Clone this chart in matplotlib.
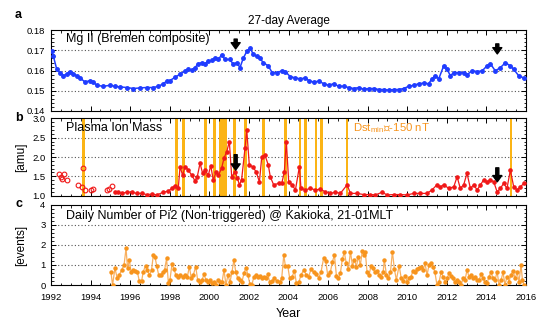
import matplotlib
matplotlib.use("Agg")
import matplotlib.pyplot as plt
from matplotlib.ticker import MultipleLocator

plt.rcParams['font.family'] = ['Liberation Sans', 'DejaVu Sans']
plt.rcParams['mathtext.fontset'] = 'custom'
plt.rcParams['mathtext.rm'] = 'Liberation Sans'
plt.rcParams['mathtext.default'] = 'regular'

# ---------------- data ----------------
mg_years = [1992.03, 1992.12, 1992.29, 1992.45, 1992.62, 1992.79, 1992.96, 1993.13, 1993.30, 1993.47,
            1993.72, 1993.97, 1994.14, 1994.31, 1994.64, 1994.98, 1995.23, 1995.49, 1995.82, 1996.16,
            1996.50, 1996.83, 1997.17, 1997.42, 1997.68, 1997.84, 1998.01, 1998.27, 1998.52, 1998.77,
            1998.94, 1999.11, 1999.28, 1999.44, 1999.61, 1999.78, 1999.95, 2000.12, 2000.29, 2000.46,
            2000.62, 2000.79, 2001.04, 2001.21, 2001.38, 2001.55, 2001.72, 2001.89, 2002.06, 2002.22,
            2002.39, 2002.56, 2002.73, 2002.98, 2003.17, 2003.42, 2003.67, 2003.84, 2004.09, 2004.35,
            2004.60, 2004.85, 2005.02, 2005.27, 2005.53, 2005.78, 2006.03, 2006.28, 2006.54, 2006.79,
            2007.04, 2007.29, 2007.55, 2007.80, 2008.05, 2008.30, 2008.56, 2008.81, 2009.06, 2009.32,
            2009.57, 2009.82, 2010.07, 2010.33, 2010.58, 2010.83, 2011.08, 2011.25, 2011.42, 2011.59,
            2011.84, 2012.01, 2012.18, 2012.35, 2012.60, 2012.85, 2013.02, 2013.27, 2013.53, 2013.78,
            2014.03, 2014.20, 2014.45, 2014.71, 2014.96, 2015.21, 2015.38, 2015.63, 2015.88]
mg_values = [0.1695, 0.1671, 0.1606, 0.1590, 0.1574, 0.1582, 0.1595, 0.1585, 0.1574, 0.1563,
             0.1542, 0.1550, 0.1542, 0.1526, 0.1521, 0.1526, 0.1521, 0.1518, 0.1515, 0.1510,
             0.1513, 0.1515, 0.1515, 0.1521, 0.1534, 0.1547, 0.1550, 0.1566, 0.1582, 0.1598,
             0.1606, 0.1602, 0.1615, 0.1634, 0.1639, 0.1634, 0.1647, 0.1650, 0.1663, 0.1655,
             0.1679, 0.1655, 0.1655, 0.1631, 0.1639, 0.1615, 0.1663, 0.1695, 0.1711, 0.1682,
             0.1671, 0.1660, 0.1639, 0.1623, 0.1590, 0.1590, 0.1598, 0.1595, 0.1569, 0.1563,
             0.1558, 0.1563, 0.1550, 0.1542, 0.1547, 0.1534, 0.1526, 0.1534, 0.1521, 0.1521,
             0.1515, 0.1510, 0.1515, 0.1506, 0.1510, 0.1510, 0.1505, 0.1505, 0.1502, 0.1505,
             0.1505, 0.1510, 0.1521, 0.1526, 0.1534, 0.1537, 0.1534, 0.1558, 0.1574, 0.1558,
             0.1623, 0.1606, 0.1574, 0.1590, 0.1590, 0.1590, 0.1579, 0.1598, 0.1595, 0.1598,
             0.1623, 0.1634, 0.1598, 0.1615, 0.1639, 0.1623, 0.1606, 0.1574, 0.1563]

# plasma ion mass, early period (open circles)
mass_early_years = [1992.40, 1992.50, 1992.58, 1992.66, 1992.80, 1993.35, 1993.57, 1993.64, 1993.74,
                    1994.00, 1994.10, 1994.82, 1994.95, 1995.07]
mass_early_values = [1.55, 1.48, 1.43, 1.55, 1.40, 1.28, 1.23, 1.72, 1.15,
                     1.16, 1.17, 1.14, 1.17, 1.24]

mass_years = [1995.23, 1995.40, 1995.57, 1995.82, 1996.08, 1996.33, 1996.58, 1996.83, 1997.09, 1997.34,
              1997.68, 1997.93, 1998.10, 1998.27, 1998.43, 1998.52, 1998.65, 1998.77, 1998.94, 1999.11,
              1999.28, 1999.39, 1999.53, 1999.66, 1999.78, 1999.95, 2000.07, 2000.20, 2000.34, 2000.46,
              2000.62, 2000.74, 2000.88, 2001.01, 2001.13, 2001.30, 2001.42, 2001.52, 2001.63, 2001.80,
              2001.89, 2002.02, 2002.19, 2002.36, 2002.53, 2002.65, 2002.81, 2002.98, 2003.08, 2003.25,
              2003.50, 2003.67, 2003.79, 2003.89, 2004.01, 2004.18, 2004.35, 2004.55, 2004.63, 2004.85,
              2005.10, 2005.36, 2005.61, 2005.86, 2006.12, 2006.37, 2006.62, 2006.96, 2007.13, 2007.46,
              2007.80, 2008.14, 2008.39, 2008.73, 2008.98, 2009.32, 2009.65, 2009.99, 2010.33, 2010.66,
              2011.00, 2011.25, 2011.50, 2011.67, 2011.84, 2012.10, 2012.35, 2012.52, 2012.68, 2012.85,
              2013.02, 2013.19, 2013.36, 2013.53, 2013.70, 2013.86, 2014.03, 2014.20, 2014.37, 2014.54,
              2014.71, 2014.87, 2015.04, 2015.21, 2015.38, 2015.55, 2015.72, 2015.89]
mass_values = [1.09, 1.09, 1.06, 1.09, 1.09, 1.06, 1.06, 1.03, 1.04, 1.02,
               1.09, 1.12, 1.19, 1.26, 1.19, 1.75, 1.53, 1.75, 1.66, 1.53,
               1.38, 1.49, 1.84, 1.58, 1.66, 1.53, 1.78, 1.40, 1.62, 1.53,
               1.71, 1.97, 2.14, 2.40, 1.49, 1.62, 1.45, 1.28, 1.41, 2.22,
               2.70, 1.79, 1.75, 1.62, 1.36, 2.01, 2.05, 1.79, 1.49, 1.28,
               1.32, 1.34, 1.62, 2.40, 1.36, 1.28, 1.15, 1.75, 1.19, 1.15,
               1.19, 1.15, 1.17, 1.10, 1.06, 1.09, 1.06, 1.28, 1.06, 1.06,
               1.03, 1.03, 1.02, 1.09, 1.02, 1.03, 1.03, 1.02, 1.06, 1.06,
               1.06, 1.15, 1.28, 1.23, 1.28, 1.19, 1.23, 1.49, 1.19, 1.28,
               1.58, 1.19, 1.28, 1.15, 1.28, 1.41, 1.36, 1.41, 1.36, 1.10,
               1.19, 1.32, 1.19, 1.66, 1.23, 1.15, 1.23, 1.32]

# storms with Dst_min <= -150 nT (start, end in years)
storm_start = [1993.58, 1998.28, 1998.60, 1999.74, 2000.20, 2000.50, 2001.19, 2001.75, 2002.66,
               2003.78, 2004.52, 2004.79, 2005.33, 2005.60, 2006.91, 2015.17]
storm_end = [1993.71, 1998.40, 1998.77, 1999.86, 2000.32, 2000.88, 2001.33, 2001.91, 2002.80,
             2003.92, 2004.64, 2004.91, 2005.45, 2005.72, 2007.03, 2015.29]

pi2_years = [1995.03, 1995.11, 1995.23, 1995.35, 1995.45, 1995.57, 1995.69, 1995.79, 1995.87, 1995.96,
             1996.04, 1996.12, 1996.24, 1996.36, 1996.46, 1996.58, 1996.66, 1996.78, 1996.87, 1996.97,
             1997.08, 1997.17, 1997.25, 1997.34, 1997.44, 1997.54, 1997.64, 1997.74, 1997.84, 1997.93,
             1998.01, 1998.11, 1998.21, 1998.31, 1998.43, 1998.52, 1998.65, 1998.77, 1998.89, 1998.99,
             1999.09, 1999.19, 1999.31, 1999.41, 1999.53, 1999.63, 1999.73, 1999.83, 1999.93, 2000.03,
             2000.13, 2000.23, 2000.33, 2000.43, 2000.54, 2000.64, 2000.74, 2000.84, 2000.94, 2001.04,
             2001.14, 2001.24, 2001.34, 2001.44, 2001.55, 2001.65, 2001.75, 2001.85, 2001.95, 2002.05,
             2002.15, 2002.25, 2002.35, 2002.45, 2002.56, 2002.66, 2002.76, 2002.86, 2002.96, 2003.05,
             2003.17, 2003.29, 2003.42, 2003.56, 2003.66, 2003.76, 2003.84, 2003.96, 2004.06, 2004.18,
             2004.30, 2004.40, 2004.52, 2004.63, 2004.77, 2004.90, 2005.02, 2005.14, 2005.27, 2005.41,
             2005.53, 2005.64, 2005.78, 2005.88, 2005.98, 2006.12, 2006.22, 2006.32, 2006.42, 2006.52,
             2006.62, 2006.72, 2006.82, 2006.92, 2007.03, 2007.13, 2007.23, 2007.33, 2007.43, 2007.53,
             2007.63, 2007.73, 2007.80, 2007.88, 2007.97, 2008.07, 2008.17, 2008.27, 2008.37, 2008.47,
             2008.57, 2008.68, 2008.78, 2008.84, 2008.95, 2009.05, 2009.15, 2009.25, 2009.35, 2009.45,
             2009.59, 2009.69, 2009.79, 2009.89, 2009.99, 2010.09, 2010.19, 2010.29, 2010.39, 2010.49,
             2010.60, 2010.70, 2010.80, 2010.90, 2011.00, 2011.10, 2011.20, 2011.30, 2011.40, 2011.50,
             2011.61, 2011.71, 2011.81, 2011.91, 2012.01, 2012.11, 2012.21, 2012.31, 2012.41, 2012.52,
             2012.62, 2012.72, 2012.82, 2012.92, 2013.02, 2013.12, 2013.22, 2013.32, 2013.43, 2013.53,
             2013.63, 2013.73, 2013.83, 2013.93, 2014.03, 2014.13, 2014.23, 2014.33, 2014.44, 2014.54,
             2014.64, 2014.74, 2014.84, 2014.94, 2015.04, 2015.14, 2015.24, 2015.35, 2015.45, 2015.55,
             2015.65, 2015.75, 2015.82, 2015.89]
pi2_values = [0.63, 0.00, 0.83, 0.33, 0.50, 0.75, 1.00, 1.83, 0.83, 1.25,
              0.67, 0.75, 0.70, 0.67, 0.20, 0.20, 0.67, 0.97, 0.75, 0.50,
              0.75, 1.50, 1.42, 0.97, 0.50, 0.50, 0.63, 0.75, 1.33, 0.08,
              0.25, 1.03, 0.80, 0.50, 0.42, 0.50, 0.42, 0.50, 0.42, 0.92,
              0.33, 0.50, 0.92, 0.25, 0.13, 0.25, 0.53, 0.25, 0.13, 0.25,
              0.08, 0.13, 0.00, 0.25, 0.17, 0.13, 0.75, 0.00, 0.50, 0.13,
              0.63, 1.25, 0.63, 0.33, 0.25, 0.17, 0.58, 0.87, 0.50, 0.03,
              0.00, 0.42, 0.50, 0.42, 0.47, 0.33, 0.42, 0.37, 0.53, 0.13,
              0.20, 0.33, 0.20, 0.13, 0.37, 1.50, 0.97, 0.97, 0.33, 0.42,
              0.70, 0.08, 0.13, 0.50, 0.75, 0.50, 0.42, 0.80, 0.63, 0.53,
              0.37, 0.63, 1.37, 1.20, 0.50, 0.67, 1.17, 1.50, 0.47, 0.33,
              0.58, 1.30, 1.63, 1.08, 0.80, 1.67, 0.97, 1.25, 0.92, 1.42,
              1.00, 1.70, 1.50, 1.67, 0.63, 0.50, 0.97, 0.83, 0.63, 0.70,
              0.50, 0.42, 0.63, 1.25, 0.50, 0.33, 0.63, 1.67, 0.80, 0.25,
              0.97, 0.37, 0.20, 0.47, 0.17, 0.33, 0.42, 0.70, 0.63, 0.80,
              0.87, 0.92, 0.75, 1.08, 0.50, 1.00, 1.08, 0.92, 0.63, 0.00,
              0.17, 0.63, 0.42, 0.13, 0.33, 0.58, 0.47, 0.33, 0.13, 0.25,
              0.13, 0.00, 0.33, 0.25, 0.75, 0.42, 0.50, 0.33, 0.42, 0.25,
              0.25, 0.53, 0.33, 0.17, 0.08, 0.42, 0.63, 0.37, 0.25, 0.67,
              0.00, 0.25, 0.63, 0.00, 0.42, 0.17, 0.50, 0.70, 0.33, 0.63,
              0.17, 1.00, 0.25, 0.00]

arrow_years = [2001.33, 2014.55]
arrow_a = [(0.1757, 0.1708), (0.1733, 0.1683)]
arrow_b = [(2.06, 1.66), (1.72, 1.36)]

xticks = [1992, 1994, 1996, 1998, 2000, 2002, 2004, 2006, 2008, 2010, 2012, 2014, 2016]

# ---------------- figure ----------------
BLUE = '#1f3cff'
RED = '#f01818'
ORANGE = '#f7941d'
GOLD = '#fbb415'

fig = plt.figure(figsize=(5.37, 3.22), dpi=100)
L, W = 0.095, 0.8845
ax_a = fig.add_axes([L, 0.6568, W, 0.2485])
ax_b = fig.add_axes([L, 0.3922, W, 0.2404])
ax_c = fig.add_axes([L, 0.1149, W, 0.2485])


def style(ax, ymin, ymax, ymaj, ymin_step, grid_vals):
    ax.set_xlim(1992, 2016)
    ax.set_ylim(ymin, ymax)
    ax.set_xticks(xticks)
    ax.xaxis.set_minor_locator(MultipleLocator(0.5))
    ax.yaxis.set_major_locator(MultipleLocator(ymaj))
    ax.yaxis.set_minor_locator(MultipleLocator(ymin_step))
    ax.tick_params(which='both', direction='in', top=True, right=True, labelsize=6.8)
    ax.tick_params(axis='y', pad=4)
    ax.tick_params(which='major', length=3.5, width=0.7)
    ax.tick_params(which='minor', length=1.8, width=0.6)
    for g in grid_vals:
        ax.axhline(g, color='#555555', ls=(0, (1, 2)), lw=0.8, zorder=0.5)
    for s in ax.spines.values():
        s.set_linewidth(0.8)


def arrow(ax, x, y0, y1):
    ax.annotate('', xy=(x, y1), xytext=(x, y0),
                arrowprops=dict(facecolor='black', edgecolor='black', width=2.2, headwidth=6.5,
                                headlength=4.5, shrink=0), zorder=5)


# panel a
style(ax_a, 0.14, 0.18, 0.01, 0.002, [0.15, 0.16, 0.17])
ax_a.yaxis.set_major_formatter(plt.FuncFormatter(lambda v, p: f"{v:.2f}"))
ax_a.tick_params(labelbottom=False)
ax_a.plot(mg_years, mg_values, color=BLUE, lw=1.1, marker='o', ms=2.5, mec=BLUE, mfc=BLUE, zorder=3)
ax_a.text(1992.75, 0.1757, 'Mg II (Bremen composite)', fontsize=9, va='center')
for x, (y0, y1) in zip(arrow_years, arrow_a):
    arrow(ax_a, x, y0, y1)
ax_a.set_title('27-day Average', fontsize=8.5, pad=5)

# panel b
style(ax_b, 1.0, 3.0, 0.5, 0.1, [1.5, 2.0, 2.5])
ax_b.yaxis.set_major_formatter(plt.FuncFormatter(lambda v, p: f"{v:.1f}"))
ax_b.tick_params(labelbottom=False)
for s0, s1 in zip(storm_start, storm_end):
    ax_b.axvspan(s0, s1, color=GOLD, lw=0, zorder=1)
ax_b.plot(mass_early_years, mass_early_values, ls='none', marker='o', ms=3.4, mfc='none',
          mec=RED, mew=0.8, zorder=3)
ax_b.plot(mass_years, mass_values, color=RED, lw=0.9, marker='o', ms=2.3, mec=RED, mfc=RED, zorder=3)
ax_b.text(1992.75, 2.75, 'Plasma Ion Mass', fontsize=9, va='center')
ax_b.text(2007.25, 2.75, 'Dst$_{min}$≦-150 nT', fontsize=8.2, va='center', color=ORANGE)
ax_b.set_ylabel('[amu]', fontsize=8.5)
ax_b.yaxis.set_label_coords(-0.05, 0.5)
for x, (y0, y1) in zip(arrow_years, arrow_b):
    arrow(ax_b, x, y0, y1)

# panel c
style(ax_c, 0, 4, 1, 0.2, [1, 2, 3])
ax_c.plot(pi2_years, pi2_values, color='#f8b060', lw=0.9, zorder=2)
ax_c.plot(pi2_years, pi2_values, ls='none', marker='o', ms=2.2, mec=ORANGE, mfc=ORANGE, zorder=3)
ax_c.text(1992.75, 3.47, 'Daily Number of Pi2 (Non-triggered) @ Kakioka, 21-01MLT', fontsize=9, va='center')
ax_c.set_ylabel('[events]', fontsize=8.5)
ax_c.yaxis.set_label_coords(-0.05, 0.5)
ax_c.tick_params(axis='x', pad=6)
ax_c.set_xlabel('Year', fontsize=9, labelpad=4)

fig.text(0.028, 0.953, 'a', fontsize=9, fontweight='bold', va='center')
fig.text(0.028, 0.633, 'b', fontsize=9, fontweight='bold', va='center')
fig.text(0.028, 0.366, 'c', fontsize=9, fontweight='bold', va='center')

fig.savefig('out.png', dpi=100)
